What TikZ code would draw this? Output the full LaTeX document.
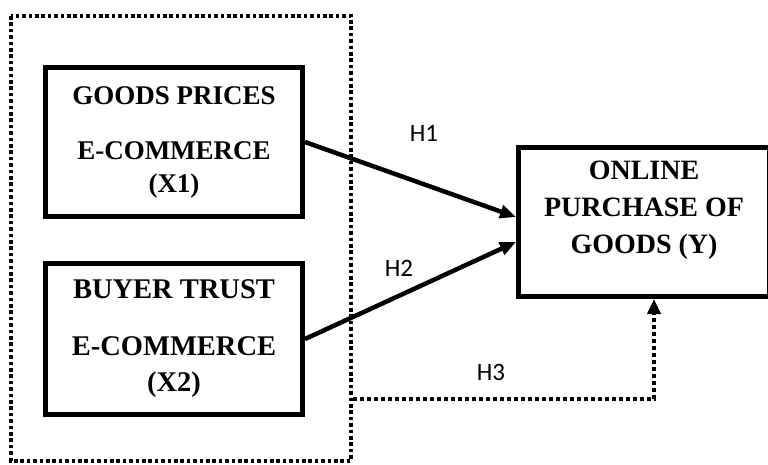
\documentclass[tikz,border=0pt]{standalone}
\usepackage{fontspec}
\setmainfont{Liberation Serif}
\newfontfamily\hfont{Carlito}
\usepackage{tikz}
\usetikzlibrary{shapes,arrows.meta}
\tikzstyle{line} = [draw, line width=4.5pt, -{Triangle[length=16pt,width=13pt]}]
\tikzstyle{dotline} = [draw, line width=3.8pt, dash pattern=on 3.8pt off 3.2pt,
                       -{Triangle[length=15pt,width=13pt]}]
\tikzstyle{varbox} = [draw, line width=5pt, align=center, inner sep=0pt]
\tikzstyle{hyp} = [font=\hfont\fontsize{25}{28}\selectfont]

\begin{document}
\begin{tikzpicture}[x=1pt,y=-1pt]
      \useasboundingbox (0,0) rectangle (768,464);

      % dotted frame round the two variables
      \draw[line width=3.6pt, dash pattern=on 3.6pt off 2.8pt] (11,16) rectangle (351,461);

      % variable boxes
      \node[varbox, minimum width=257pt, minimum height=149pt,
            font=\bfseries\fontsize{27}{33}\selectfont] (x1) at (174,142)
            {GOODS PRICES\\[22pt] E-COMMERCE\\(X1)};
      \node[varbox, minimum width=257pt, minimum height=151pt,
            font=\bfseries\fontsize{28.5}{36}\selectfont] (x2) at (174,339)
            {BUYER TRUST\\[21pt] E-COMMERCE\\(X2)};
      \node[varbox, minimum width=251pt, minimum height=149pt] (y) at (644,222) {};
      \node[align=center, font=\bfseries\fontsize{28}{37}\selectfont] (ytext) at (644,210)
            {ONLINE\\PURCHASE OF\\GOODS (Y)};

      % hypotheses
      \draw[line] (x1.east) -- ([yshift=5pt]y.west);
      \draw[line] (x2.east) -- ([yshift=-20pt]y.west);
      \coordinate (h3start) at (353,399);
      \draw[dotline] (h3start) -| ([xshift=10pt]y.south);

      \node[hyp] (h1) at (424,133) {H1};
      \node[hyp] (h2) at (399,268) {H2};
      \node[hyp] (h3) at (491,372) {H3};
    \end{tikzpicture}
\end{document}
